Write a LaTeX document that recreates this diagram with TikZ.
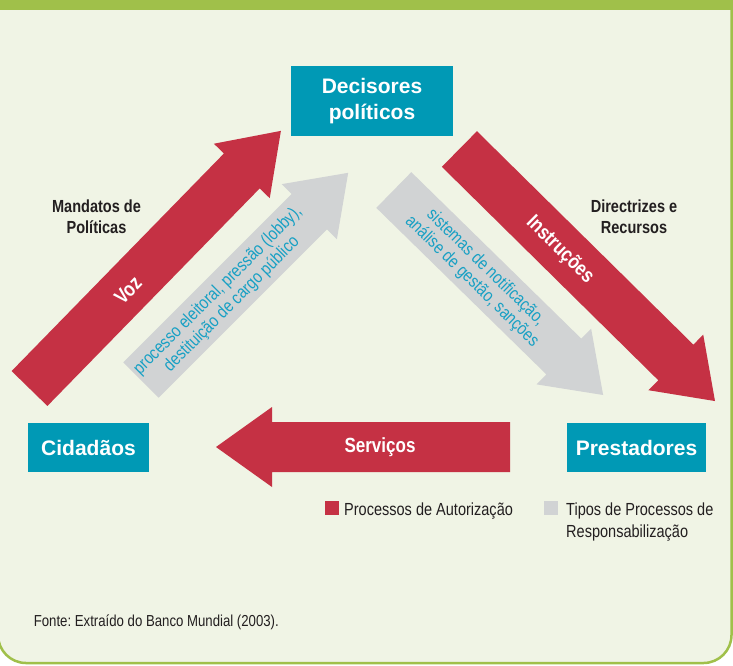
\documentclass[tikz,border=0pt]{standalone}
\usepackage{fontspec}
\setmainfont{Liberation Sans}
\newfontfamily\condfont[FakeStretch=0.83]{Liberation Sans}
\usepackage{tikz}
\frenchspacing

\definecolor{verde}{RGB}{160,192,74}
\definecolor{fundo}{RGB}{240,244,229}
\definecolor{vermelho}{RGB}{197,49,68}
\definecolor{cinza}{RGB}{209,211,212}
\definecolor{azul}{RGB}{0,153,181}
\definecolor{ciano}{RGB}{24,160,196}
\definecolor{escuro}{RGB}{35,31,32}

\begin{document}
\begin{tikzpicture}[x = 1pt, y = -1pt,
		caixa/.style = {fill = azul, text = white, font = \fontsize{21}{25.5}\selectfont\bfseries, align = center, inner sep = 0pt},
		rotulo/.style = {text = escuro, font = \condfont\fontsize{17.5}{21}\selectfont\bfseries, align = center},
		seta/.style = {text = white, font = \condfont\fontsize{20.5}{24}\selectfont\bfseries},
		processo/.style = {text = ciano, font = \condfont\fontsize{17.8}{19.5}\selectfont, align = center},
		legenda/.style = {text = escuro, font = \condfont\fontsize{17.5}{22}\selectfont, align = left, inner sep = 0pt}]
				\useasboundingbox (0,0) rectangle (733,665);
				\fill [white] (0,0) rectangle (733,665);
				\begin{scope}
					\clip (0,0) rectangle (733,665);
					\draw [fill = fundo, draw = verde, line width = 2.5, rounded corners = 28] (-2,-20) rectangle (731.5,663);
					\fill [verde] (0,0) rectangle (733,10);
				\end{scope}
				% caixas
				\node [caixa, minimum width = 162, minimum height = 70] (decisores) at (372,101) {Decisores\\pol\'iticos};
				\node [caixa, minimum width = 121, minimum height = 49] (cidadaos) at (88.5,447.5) {Cidad\~aos};
				\node [caixa, minimum width = 139, minimum height = 49] (prestadores) at (636.5,447.5) {Prestadores};
				% setas
				\fill [vermelho, shift = {(29.5,388.5)}, rotate = 45.7] (0,-25) -- (304,-25) -- (304,-39) -- (360,0) -- (304,39) -- (304,25) -- (0,25) -- cycle;
				\fill [cinza, shift = {(141,380)}, rotate = 45] (0,-25) -- (238,-25) -- (238,-39) -- (293,0) -- (238,39) -- (238,25) -- (0,25) -- cycle;
				\fill [cinza, shift = {(393.8,190)}, rotate = -44.4] (0,-25) -- (238,-25) -- (238,-39) -- (293,0) -- (238,39) -- (238,25) -- (0,25) -- cycle;
				\fill [vermelho, shift = {(459.4,149)}, rotate = -44.6] (0,-25) -- (304,-25) -- (304,-39) -- (359,0) -- (304,39) -- (304,25) -- (0,25) -- cycle;
				\fill [vermelho, shift = {(510,447)}, rotate = 180] (0,-25) -- (238,-25) -- (238,-40) -- (294,0) -- (238,40) -- (238,25) -- (0,25) -- cycle;
				\node [seta, rotate = 45.7] (voz) at (128,290) {Voz};
				\node [seta, rotate = -44.6] (instrucoes) at (560,250) {Instru\c c\~oes};
				\node [seta] (servicos) at (380,447) {Servi\c cos};
				\node [processo, rotate = 45] (eleitoral) at (225,297.5) {processo eleitoral, press\~ao (lobby),\\destitui\c c\~ao de cargo p\'ublico};
				\node [processo, rotate = -44.4] (notificacao) at (478.7,274.5) {sistemas de notifica\c c\~ao,\\an\'alise de gest\~ao, san\c c\~oes};
				\node [rotulo] (mandatos) at (96.5,217) {Mandatos de\\Pol\'iticas};
				\node [rotulo] (directrizes) at (634,217) {Directrizes e\\Recursos};
				% legenda
				\node [fill = vermelho, minimum size = 14, inner sep = 0pt] (quadautor) at (332,508) {};
				\node [legenda, anchor = base west] (autorizacao) at (344,515) {Processos de Autoriza\c c\~ao};
				\node [fill = cinza, minimum size = 14, inner sep = 0pt] (quadresp) at (551,508) {};
				\node [legenda, anchor = north west] (responsabil) at (566,502.5) {Tipos de Processos de\\Responsabiliza\c c\~ao};
				\node [legenda, anchor = base west, font = \condfont\fontsize{15.9}{19}\selectfont] (fonte) at (33.6,626.5) {Fonte: Extra\'ido do Banco Mundial (2003).};
		\end{tikzpicture}
\end{document}
